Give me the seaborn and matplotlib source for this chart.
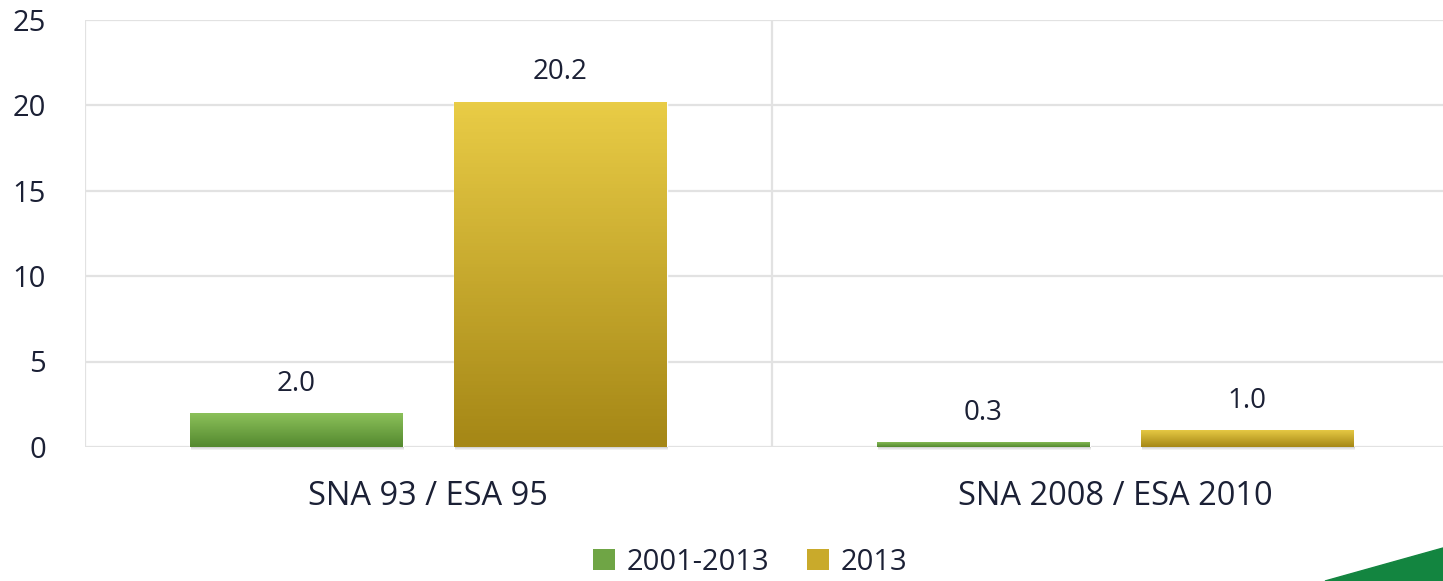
import numpy as np
import pandas as pd
import matplotlib.pyplot as plt
import seaborn as sns
from matplotlib.colors import LinearSegmentedColormap
from matplotlib.patches import Patch, Polygon, Rectangle

# Chart data
categories = ["SNA 93 / ESA 95", "SNA 2008 / ESA 2010"]
series = ["2001-2013", "2013"]
values_2001_2013 = [2.0, 0.3]
values_2013 = [20.2, 1.0]
y_ticks = [0, 5, 10, 15, 20, 25]

df = pd.DataFrame({
    "category": categories * 2,
    "series": [series[0]] * 2 + [series[1]] * 2,
    "value": values_2001_2013 + values_2013,
})

# gradient colours (top, bottom) per series
grad = {
    series[0]: ("#8DC25B", "#54892F"),
    series[1]: ("#E9CC46", "#A58716"),
}
mid = {series[0]: "#6FA545", series[1]: "#C9AA2B"}
text_color = "#1B2035"
grid_color = "#E2E2E2"

sns.set_style("white")
plt.rcParams["font.family"] = ["Open Sans", "DejaVu Sans"]

W, H = 1443, 581
fig = plt.figure(figsize=(W / 100, H / 100), dpi=100)
ax = fig.add_axes([85 / W, 134 / H, 1373.5 / W, 427.5 / H])

sns.barplot(data=df, x="category", y="value", hue="series",
            palette=[mid[s] for s in series], saturation=1,
            width=0.768, gap=0.193, legend=False, ax=ax, zorder=3)

ax.set_xlim(-0.5, 1.5)
ax.set_ylim(0, 25)

# gradient fill + soft shadow on each bar
for container, s in zip(ax.containers, series):
    cmap = LinearSegmentedColormap.from_list(s, [grad[s][1], grad[s][0]])
    for bar in container:
        x0, y0 = bar.get_x(), bar.get_y()
        w, h = bar.get_width(), bar.get_height()
        for k, a in enumerate([0.25, 0.15, 0.08]):
            ax.add_patch(Rectangle((x0 + 0.002, -0.06 - 0.06 * k), w, 0.06,
                                   color="#555555", alpha=a, lw=0,
                                   zorder=2, clip_on=False))
        img = ax.imshow(np.linspace(0, 1, 100).reshape(-1, 1), cmap=cmap,
                        extent=[x0, x0 + w, y0, y0 + h], origin="lower",
                        aspect="auto", zorder=4)
        img.set_clip_path(bar)
    ax.bar_label(container, fmt="%.1f", padding=11, fontsize=20,
                 color=text_color, zorder=5)

ax.set_xlim(-0.5, 1.5)
ax.set_ylim(0, 25)

# axes styling
for sp in ax.spines.values():
    sp.set_visible(False)
ax.set_yticks(y_ticks)
ax.set_xticks([-0.5, 0.5, 1.5], minor=True)
ax.grid(axis="y", color=grid_color, lw=1.6, zorder=0)
ax.grid(axis="x", which="minor", color=grid_color, lw=1.6, zorder=0)
ax.grid(axis="x", which="major", visible=False)
ax.tick_params(axis="y", length=0, pad=28, labelsize=21, labelcolor=text_color)
ax.tick_params(axis="x", which="both", length=0, pad=24, labelsize=23.5,
               labelcolor=text_color)
ax.set_xlabel("")
ax.set_ylabel("")

# legend
handles = [Patch(facecolor=mid[s], edgecolor="none", label=s) for s in series]
fig.legend(handles=handles, loc="center", bbox_to_anchor=(0.52, 0.032),
           ncol=2, frameon=False, fontsize=21, handlelength=0.75,
           handleheight=0.75, handletextpad=0.4, columnspacing=1.3,
           labelcolor=text_color)

# corner decoration
fig.patches.append(Polygon([[1325 / W, 0], [1, 33 / H], [1, 0]], closed=True,
                           transform=fig.transFigure, color="#138540",
                           zorder=10))

plt.savefig("out.png", dpi=100)
